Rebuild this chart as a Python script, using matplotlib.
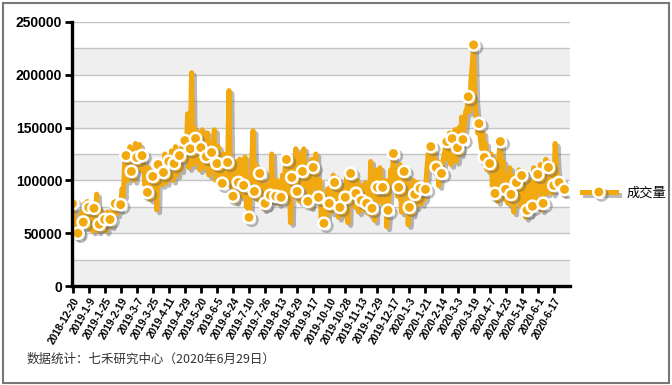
import numpy as np
import matplotlib
matplotlib.use("Agg")
import matplotlib.pyplot as plt
import matplotlib.patheffects as pe
from matplotlib.patches import Rectangle

# daily volume, grouped by 4 (first of each group carries a marker)
volume = [
    78000, 70000, 58000, 47000,   50000, 62000, 48000, 70000,
    60500, 78000, 56000, 80000,   74500, 55000, 76000, 52000,
    73600, 60000, 87000, 52000,   58500, 72000, 55000, 66000,
    63000, 52000, 70000, 58000,   63000, 57000, 79000, 70000,
    78000, 68000, 80000, 72000,   77000, 92000, 85000, 118000,
    123500, 100000, 112000, 132000, 108500, 126000, 100000, 135000,
    121700, 112000, 134000, 110000, 123500, 128000, 96000, 105000,
    88700, 112000, 82000, 98000,  103800, 92000, 116000, 72000,
    115000, 100000, 114000, 96000, 107500, 125000, 98000, 120000,
    118000, 103000, 128000, 100000, 116000, 132000, 105000, 118000,
    123500, 110000, 135000, 120000, 137700, 120000, 163000, 112000,
    130000, 202000, 115000, 150000, 139600, 118000, 145000, 110000,
    131000, 148000, 112000, 140000, 122600, 145000, 105000, 136000,
    126400, 110000, 148000, 100000, 116000, 132000, 95000, 120000,
    97200, 125000, 100000, 118000, 117000, 185000, 95000, 110000,
    85000, 112000, 80000, 118000,  98000, 120000, 85000, 105000,
    95300, 122000, 75000, 100000,  65000, 90000, 118000, 147000,
    89600, 115000, 82000, 110000,  106600, 88000, 100000, 73000,
    78300, 95000, 75000, 100000,   85800, 125000, 80000, 95000,
    85000, 100000, 78000, 95000,   84000, 105000, 80000, 110000,
    119800, 90000, 112000, 60000,  102800, 118000, 85000, 130000,
    89600, 115000, 80000, 125000,  108500, 130000, 95000, 115000,
    80200, 105000, 75000, 120000,  112300, 95000, 125000, 88000,
    84000, 100000, 62000, 88000,   59400, 80000, 65000, 92000,
    78300, 98000, 70000, 105000,   98000, 80000, 102000, 65000,
    74500, 90000, 68000, 95000,    84000, 105000, 60000, 100000,
    106600, 85000, 98000, 75000,   87700, 100000, 70000, 92000,
    81100, 95000, 72000, 98000,    78300, 90000, 68000, 118000,
    73600, 100000, 62000, 110000,  93400, 80000, 112000, 85000,
    93400, 75000, 100000, 56000,   71700, 90000, 110000, 100000,
    125500, 98000, 110000, 85000,  93400, 115000, 70000, 100000,
    108500, 90000, 105000, 58000,  74500, 95000, 68000, 100000,
    86800, 75000, 98000, 80000,    92400, 78000, 95000, 82000,
    91500, 110000, 125000, 112000, 132000, 120000, 128000, 108000,
    112300, 118000, 95000, 110000, 106600, 118000, 125000, 132000,
    136800, 120000, 145000, 115000, 139600, 125000, 148000, 118000,
    131000, 150000, 125000, 160000, 138700, 150000, 165000, 168000,
    179200, 165000, 195000, 210000, 228300, 175000, 160000, 145000,
    153800, 140000, 130000, 145000, 121700, 135000, 110000, 125000,
    116000, 125000, 95000, 120000, 87700, 110000, 80000, 125000,
    136800, 105000, 118000, 82000, 91500, 105000, 78000, 112000,
    86800, 100000, 70000, 105000,  98000, 85000, 110000, 75000,
    104700, 92000, 108000, 65000,  71700, 95000, 68000, 100000,
    75500, 112000, 75000, 108000,  105700, 90000, 115000, 72000,
    78300, 100000, 120000, 88000,  112300, 95000, 105000, 88000,
    95300, 135000, 110000, 100000, 98000, 90000, 96000, 88000,
    91500,
]

tick_labels = [
    "2018-12-20", "2019-1-9", "2019-1-25", "2019-2-19", "2019-3-7",
    "2019-3-25", "2019-4-11", "2019-4-29", "2019-5-20", "2019-6-5",
    "2019-6-24", "2019-7-10", "2019-7-26", "2019-8-13", "2019-8-29",
    "2019-9-17", "2019-10-10", "2019-10-28", "2019-11-13", "2019-11-29",
    "2019-12-17", "2020-1-3", "2020-1-21", "2020-2-14", "2020-3-3",
    "2020-3-19", "2020-4-7", "2020-4-23", "2020-5-14", "2020-6-1",
    "2020-6-17",
]
tick_step = 12

orange = "#f2a90f"

fig = plt.figure(figsize=(6.72, 3.85), dpi=100)
ax = fig.add_axes([0.107, 0.257, 0.741, 0.686])

# alternating horizontal bands + gridlines
for lo in range(0, 250000, 50000):
    ax.axhspan(lo, lo + 25000, color="#efefef", zorder=0, lw=0)
for g in range(25000, 250001, 25000):
    ax.axhline(g, color="#c4c4c4", lw=1.0, zorder=1)

x = np.arange(len(volume))
ax.plot(x, volume, color=orange, lw=3.6, marker="o", markevery=4,
        markersize=8.2, markerfacecolor=orange, markeredgecolor="white",
        markeredgewidth=1.8, zorder=3, label="成交量",
        path_effects=[pe.SimpleLineShadow(offset=(2, -2), shadow_color="#666666", alpha=0.45),
                      pe.Normal()])

ax.set_xlim(-0.5, 372)
ax.set_ylim(0, 250000)
ax.set_yticks(range(0, 250001, 50000))
ax.set_xticks(np.arange(len(tick_labels)) * tick_step)
ax.set_xticklabels(tick_labels, rotation=60, ha="right", rotation_mode="anchor",
                   fontsize=7.4, fontweight="bold", family="Liberation Sans")
for t in ax.get_yticklabels():
    t.set_fontsize(10)
    t.set_fontweight("bold")
    t.set_family("Liberation Sans")
ax.tick_params(axis="both", direction="out", length=5, width=2, pad=2)

for s in ["top", "right"]:
    ax.spines[s].set_visible(False)
for s in ["left", "bottom"]:
    ax.spines[s].set_linewidth(2.4)
    ax.spines[s].set_zorder(5)

ax.legend(loc="center left", bbox_to_anchor=(1.0, 0.352), frameon=False,
          handlelength=2.6, prop={"family": ["Noto Sans CJK SC", "DejaVu Sans"], "size": 9.5})

fig.text(0.04, 0.058, "数据统计：七禾研究中心（2020年6月29日）", fontsize=9,
         color="#333333", family=["Noto Sans CJK SC", "DejaVu Sans"])

fig.patches.append(Rectangle((0.004, 0.006), 0.992, 0.986, transform=fig.transFigure,
                             fill=False, edgecolor="#777777", lw=1.5))

fig.savefig("out.png", dpi=100)
